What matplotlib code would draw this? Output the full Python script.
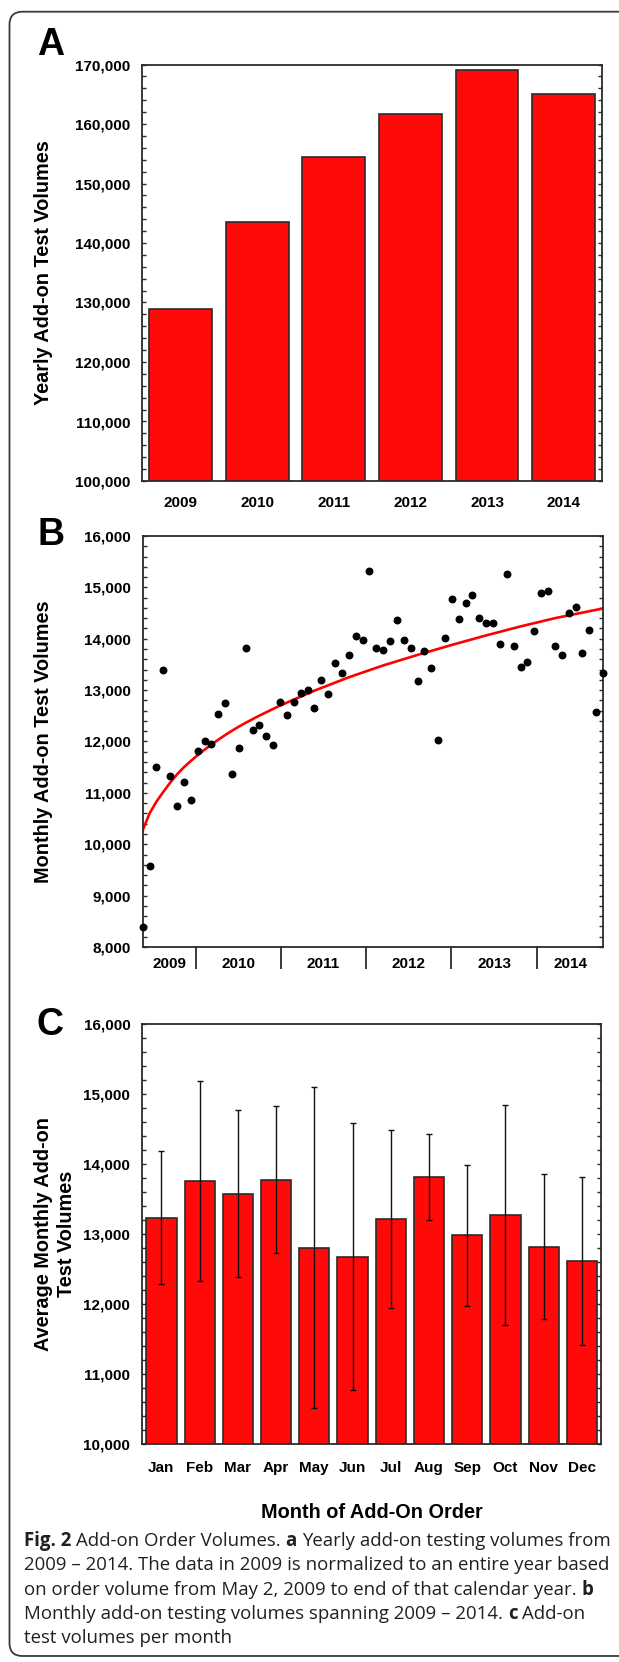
import numpy as np
import matplotlib
matplotlib.use("Agg")
import matplotlib.pyplot as plt
from matplotlib.patches import FancyBboxPatch
from matplotlib.ticker import MultipleLocator, FuncFormatter

W, H = 619, 1662
RED = "#ff0909"
EDGE = "#2b2b2b"
FONT = "Liberation Sans"
CAP_FONT = "Open Sans"

# ---- panel A: yearly totals
years = ["2009", "2010", "2011", "2012", "2013", "2014"]
yearly_volumes = [128900, 143560, 154420, 161760, 169040, 165100]

# ---- panel B: monthly totals, May 2009 .. Dec 2014
monthly_volumes = [
    8390, 9571, 11494, 13383, 11338, 10753, 11214, 10870,
    11812, 12013, 11961, 12526, 12747, 11364, 11883, 13825, 12227, 12325, 12104, 11929,
    12766, 12519, 12766, 12942, 12994, 12643, 13188, 12916, 13526, 13331, 13675, 14045,
    13968, 15325, 13825, 13773, 13948, 14364, 13974, 13825, 13182, 13753, 13429, 12032,
    14019, 14766, 14390, 14688, 14857, 14409, 14299, 14299, 13896, 15253, 13851, 13455,
    13552, 14149, 14883, 14935, 13851, 13675, 14494, 14610, 13721, 14169, 12578, 13331,
]
# trend curve at these month indices
trend_idx = [0, 1, 2, 3, 4, 5, 6, 7, 8, 9, 10, 11, 12, 13, 14, 15, 16, 17, 18, 19, 20,
             25, 30, 35, 40, 45, 50, 55, 60, 67]
trend_vals = [10273, 10600, 10830, 11020, 11200, 11360, 11500, 11620, 11735, 11840, 11940,
              12035, 12125, 12210, 12290, 12365, 12435, 12505, 12570, 12635, 12700,
              12990, 13250, 13480, 13685, 13880, 14065, 14240, 14400, 14590]
year_breaks = [7.8, 20.1, 32.5, 44.9, 57.4]

# ---- panel C: average per calendar month
months = ["Jan", "Feb", "Mar", "Apr", "May", "Jun", "Jul", "Aug", "Sep", "Oct", "Nov", "Dec"]
month_means = [13233, 13757, 13576, 13776, 12805, 12676, 13214, 13810, 12981, 13271, 12819, 12619]
month_sd = [950, 1430, 1190, 1050, 2295, 1910, 1275, 612, 1005, 1570, 1040, 1200]

caption_lines = [
    [("Fig. 2", True), ("Add-on Order Volumes.", False), ("a", True),
     ("Yearly add-on testing volumes from", False)],
    [("2009 \u2013 2014. The data in 2009 is normalized to an entire year based", False)],
    [("on order volume from May 2, 2009 to end of that calendar year.", False), ("b", True)],
    [("Monthly add-on testing volumes spanning 2009 \u2013 2014.", False), ("c", True),
     ("Add-on", False)],
    [("test volumes per month", False)],
]

plt.rcParams["font.family"] = FONT
plt.rcParams["font.weight"] = "bold"


def px_box(left, top, right, bottom):
    return [left / W, 1 - bottom / H, (right - left) / W, (bottom - top) / H]


def style_axes(ax, major, minor):
    for s in ax.spines.values():
        s.set_color(EDGE)
        s.set_linewidth(1.3)
    ax.yaxis.set_major_locator(MultipleLocator(major))
    ax.yaxis.set_minor_locator(MultipleLocator(minor))
    ax.yaxis.set_major_formatter(FuncFormatter(lambda v, _: f"{v:,.0f}"))
    ax.tick_params(axis="y", which="both", direction="in", left=True, right=True,
                   length=3, width=1, color=EDGE, labelsize=11, pad=8.6)
    ax.tick_params(axis="x", which="both", length=0, labelsize=11)


fig = plt.figure(figsize=(W / 100, H / 100), dpi=100)

# outer rounded frame (right side runs off the image)
frame = FancyBboxPatch((0.095, 0.06), 7.0, 16.62 - 0.117 - 0.06,
                       boxstyle="round,pad=0,rounding_size=0.13",
                       transform=fig.dpi_scale_trans, fill=False,
                       edgecolor="#3a3a3a", linewidth=1.3)
fig.add_artist(frame)

# ---------------- A
ax_a = fig.add_axes(px_box(142.3, 64.5, 602, 481))
ax_a.bar(np.arange(len(years)), yearly_volumes, width=0.82, color=RED,
         edgecolor=EDGE, linewidth=1.2)
ax_a.set_xlim(-0.5, len(years) - 0.5)
ax_a.set_ylim(100000, 170000)
style_axes(ax_a, 10000, 2000)
ax_a.set_xticks(np.arange(len(years)))
ax_a.set_xticklabels(years)
ax_a.tick_params(axis="x", pad=11)

# ---------------- B
ax_b = fig.add_axes(px_box(142.7, 536, 603, 947))
xm = np.arange(len(monthly_volumes))
ax_b.plot(trend_idx, trend_vals, color="#ff0000", lw=1.9, zorder=2)
ax_b.scatter(xm, monthly_volumes, s=22, color="black", zorder=3, clip_on=False)
ax_b.set_xlim(0, len(monthly_volumes) - 1)
ax_b.set_ylim(8000, 16000)
style_axes(ax_b, 1000, 200)
bounds = np.array([0] + year_breaks + [len(monthly_volumes) - 1])
ax_b.set_xticks(year_breaks)
ax_b.set_xticklabels([])
ax_b.set_xticks((bounds[:-1] + bounds[1:]) / 2, minor=True)
ax_b.set_xticklabels(years, minor=True)
ax_b.tick_params(axis="x", which="major", direction="out", length=16, width=1.3, color=EDGE)
ax_b.tick_params(axis="x", which="minor", length=0, pad=7.5)

# ---------------- C
ax_c = fig.add_axes(px_box(142.3, 1024, 601, 1444))
xc = np.arange(len(months))
ax_c.bar(xc, month_means, width=0.79, color=RED, edgecolor=EDGE, linewidth=1.2)
ax_c.errorbar(xc, month_means, yerr=month_sd, fmt="none", ecolor="#111111",
              elinewidth=1, capsize=2.5, capthick=1)
ax_c.set_xlim(-0.5, len(months) - 0.5)
ax_c.set_ylim(10000, 16000)
style_axes(ax_c, 1000, 200)
ax_c.set_xticks(xc)
ax_c.set_xticklabels(months)
ax_c.tick_params(axis="x", pad=12)

# panel letters and axis titles
for letter, base in [("A", 55), ("B", 545), ("C", 1035)]:
    fig.text(37 / W, 1 - base / H, letter, fontsize=27, fontweight="bold",
             ha="left", va="baseline")

fig.text(43.5 / W, 1 - 272.7 / H, "Yearly Add-on Test Volumes", rotation=90,
         fontsize=14.3, ha="center", va="center")
fig.text(43.5 / W, 1 - 741.5 / H, "Monthly Add-on Test Volumes", rotation=90,
         fontsize=14.3, ha="center", va="center")
fig.text(55 / W, 1 - 1234 / H, "Average Monthly Add-on\nTest Volumes", rotation=90,
         fontsize=14.3, ha="center", va="center", multialignment="center",
         linespacing=1.2)
fig.text(371.5 / W, 1 - 1512 / H, "Month of Add-On Order", fontsize=14.3,
         ha="center", va="center")

# caption, laid out word group by word group so bold pieces sit inline
renderer = fig.canvas.get_renderer()
cap_size = 13.45


def text_width(s, weight):
    t = fig.text(0, 0, s, fontsize=cap_size, family=CAP_FONT, fontweight=weight)
    w = t.get_window_extent(renderer).width
    t.remove()
    return w


space_w = text_width("n n", "normal") - text_width("nn", "normal")
cap_top = 1546
cap_step = 24.3
for i, line in enumerate(caption_lines):
    x = 24
    y = 1 - (cap_top + i * cap_step) / H
    for seg, bold in line:
        t = fig.text(x / W, y, seg, fontsize=cap_size, family=CAP_FONT,
                     fontweight="bold" if bold else "normal", color="#231f20",
                     ha="left", va="baseline")
        x += t.get_window_extent(renderer).width + space_w

fig.savefig("out.png", dpi=100)
